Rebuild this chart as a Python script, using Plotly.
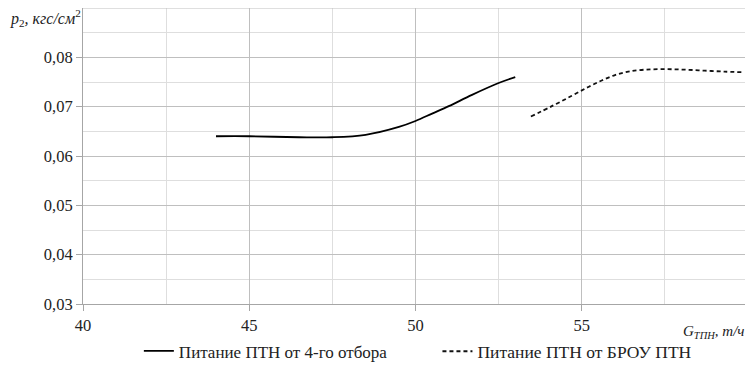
import plotly.graph_objects as go

# Series 1: feed from 4th extraction (solid)
x_solid = [44.0, 45.0, 46.5, 47.5, 48.5, 49.5, 50.0, 50.5, 51.0, 51.7, 52.5, 53.0]
y_solid = [0.0640, 0.0640, 0.0638, 0.0638, 0.0643, 0.0659, 0.0671, 0.0686, 0.0701, 0.0724,
           0.0748, 0.0760]

# Series 2: feed from BROU (dashed)
x_dash = [53.47, 54.1, 54.7, 55.2, 55.6, 56.0, 56.4, 56.9, 57.5, 58.1, 58.7, 59.3, 59.8]
y_dash = [0.0680, 0.0701, 0.0722, 0.0740, 0.0753, 0.0764, 0.0771, 0.0775, 0.0776, 0.0775,
          0.0773, 0.0771, 0.0770]

name_solid = "Питание ПТН от 4-го отбора"
name_dash = "Питание ПТН от БРОУ ПТН"

x_ticks = [40, 45, 50, 55]
y_ticks = [0.03, 0.04, 0.05, 0.06, 0.07, 0.08]

FONT = "Liberation Serif"
TXT = "#222222"

fig = go.Figure()
fig.add_trace(go.Scatter(x=x_solid, y=y_solid, mode="lines", name=name_solid, legend="legend",
                         line=dict(color="#000000", width=1.8, shape="spline", smoothing=1.0)))
fig.add_trace(go.Scatter(x=x_dash, y=y_dash, mode="lines", name=name_dash, legend="legend2",
                         line=dict(color="#111111", width=1.8, shape="spline", smoothing=1.0,
                                   dash="4px,3px")))

# figure is offset by the page's 8px body margin
W, H = 745, 358
fig.update_layout(
    width=W, height=H,
    margin=dict(l=75, r=5, t=0, b=62, autoexpand=False),
    paper_bgcolor="white", plot_bgcolor="white",
    separators=", ",
    font=dict(family=FONT, size=16, color=TXT),
    showlegend=True,
    legend=dict(orientation="h", x=0.084, xanchor="left", y=-0.16, yanchor="middle",
                font=dict(size=17, family=FONT, color=TXT), bgcolor="rgba(0,0,0,0)"),
    legend2=dict(orientation="h", x=0.533, xanchor="left", y=-0.16, yanchor="middle",
                 font=dict(size=17.5, family=FONT, color=TXT), bgcolor="rgba(0,0,0,0)"),
    xaxis=dict(range=[40, 60], tickvals=x_ticks, showline=True, linecolor="#a6a6a6", linewidth=1,
               ticks="outside", ticklen=6, tickcolor="#a6a6a6", automargin=False,
               showgrid=True, gridcolor="#bfbfbf", gridwidth=1, zeroline=False,
               minor=dict(dtick=2.5, tick0=40, showgrid=True, gridcolor="#dedede", gridwidth=1),
               tickfont=dict(size=16.5, family=FONT, color=TXT)),
    yaxis=dict(range=[0.03, 0.09], tickvals=y_ticks, tickformat=".2f", showline=True,
               linecolor="#a6a6a6", linewidth=1, ticks="outside", ticklen=6, tickcolor="#a6a6a6",
               automargin=False,
               showgrid=True, gridcolor="#bfbfbf", gridwidth=1, zeroline=False,
               minor=dict(dtick=0.005, tick0=0.03, showgrid=True, gridcolor="#dedede", gridwidth=1),
               tickfont=dict(size=16.5, family=FONT, color=TXT)),
)

# top and right borders (gridline-like)
fig.add_shape(type="line", xref="paper", yref="paper", x0=0, x1=1, y0=1, y1=1,
              line=dict(color="#bfbfbf", width=1))
fig.add_shape(type="line", xref="paper", yref="paper", x0=1, x1=1, y0=0, y1=1,
              line=dict(color="#bfbfbf", width=1))

fig.add_annotation(xref="paper", yref="paper", x=0.0, y=0.965, xanchor="right", yanchor="middle",
                   showarrow=False,
                   text="<i>p</i><sub>2</sub><i>, кгс/см</i><sup>2</sup>",
                   font=dict(family=FONT, size=16, color=TXT))
fig.add_annotation(xref="paper", yref="paper", x=0.999, y=-0.095, xanchor="right", yanchor="middle",
                   showarrow=False,
                   text="<i>G</i><sub><i>ТПН</i></sub><i>, т/ч</i>",
                   font=dict(family=FONT, size=15, color=TXT))

fig.write_html("out.html")
